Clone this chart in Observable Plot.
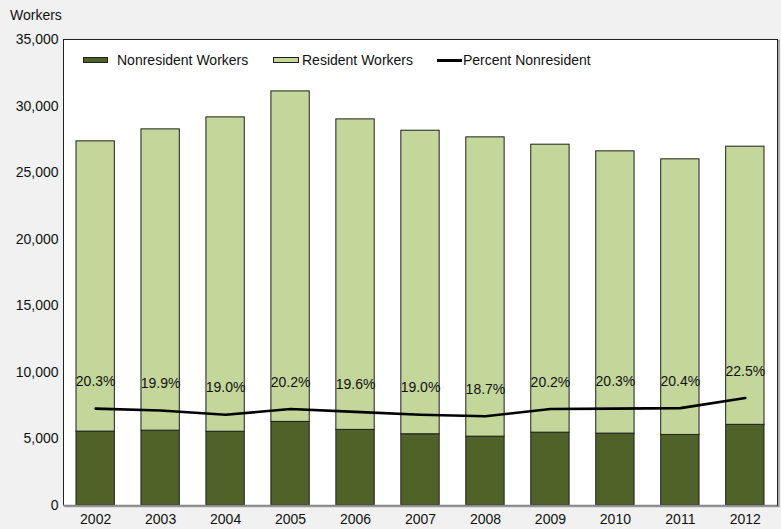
<!DOCTYPE html>
<html><head><meta charset="utf-8">
<script src="https://cdn.jsdelivr.net/npm/d3@7"></script>
<script src="https://cdn.jsdelivr.net/npm/@observablehq/plot@0.6"></script>
<style>
html,body{margin:0;padding:0;background:#f0f1f0;}
#wrap{position:relative;width:781px;height:529px;font-family:"Liberation Sans",Arial,sans-serif;font-size:14px;color:#111;}
.lg{position:absolute;white-space:nowrap;line-height:1;}
.sw{position:absolute;box-sizing:border-box;height:6px;border:1px solid #1e1e1e;}
.ln{position:absolute;height:2.5px;background:#000;}
</style></head><body><div id="wrap"></div>
<script>
const years = ["2002","2003","2004","2005","2006","2007","2008","2009","2010","2011","2012"];
const nonresident = [5550, 5620, 5540, 6280, 5680, 5350, 5170, 5470, 5400, 5300, 6060];
const resident = [21800, 22630, 23610, 24820, 23320, 22800, 22480, 21630, 21200, 20700, 20890];
const percentNonresident = [20.3, 19.9, 19.0, 20.2, 19.6, 19.0, 18.7, 20.2, 20.3, 20.4, 22.5];
const yTicks = [0, 5000, 10000, 15000, 20000, 25000, 30000, 35000];
const seriesNames = ["Nonresident Workers", "Resident Workers", "Percent Nonresident"];
const seriesColors = ["#4f6228", "#c4d79b", "#000000"];
const pctAxisMax = 97.6; // top of the hidden secondary (percent) axis

const rows = [];
years.forEach((yr, i) => {
  rows.push({year: yr, type: seriesNames[0], value: nonresident[i]});
  rows.push({year: yr, type: seriesNames[1], value: resident[i]});
});
const pctRows = years.map((yr, i) => ({year: yr, pct: percentNonresident[i], yv: percentNonresident[i] / pctAxisMax * 35000}));

const chart = Plot.plot({
  width: 781, height: 529,
  marginTop: 39, marginRight: 4, marginBottom: 24, marginLeft: 63,
  style: {background: "transparent", fontFamily: "'Liberation Sans', Arial, sans-serif", fontSize: "14px", color: "#111", overflow: "visible"},
  x: {type: "band", domain: years, paddingInner: 0.41, paddingOuter: 0.2, round: false, label: null},
  y: {domain: [0, 35000], label: null},
  color: {domain: seriesNames.slice(0, 2), range: seriesColors.slice(0, 2)},
  marks: [
    Plot.frame({stroke: "#9a9a9a", strokeWidth: 1.5, dx: 1.5, dy: 1}),
    Plot.frame({fill: "white", stroke: null}),
    Plot.barY(rows, {x: "year", y: "value", fill: "type", stroke: "#1e1e1e", strokeWidth: 1}),
    Plot.line(pctRows, {x: "year", y: "yv", stroke: "#000", strokeWidth: 2.6}),
    Plot.text(pctRows, {x: "year", y: "yv", text: d => d.pct.toFixed(1) + "%", dy: -27, fontSize: 14, fill: "#111"}),
    Plot.frame({stroke: "#222", strokeWidth: 1}),
    Plot.ruleY([0], {stroke: "#888", strokeWidth: 1.5}),
    Plot.axisY({ticks: yTicks, tickSize: 0, tickPadding: 5, tickFormat: d3.format(","), fontSize: 14, label: null}),
    Plot.axisX({tickSize: 0, tickPadding: 9, fontSize: 14, label: null})
  ]
});
const wrap = document.getElementById("wrap");
wrap.appendChild(chart);

function addEl(cls, css, text) {
  const e = document.createElement("div");
  e.className = cls;
  Object.assign(e.style, css);
  if (text) e.textContent = text;
  wrap.appendChild(e);
}
addEl("lg", {left: "10px", top: "8px"}, "Workers");
addEl("sw", {left: "83px", top: "57px", width: "25px", background: seriesColors[0]});
addEl("lg", {left: "117px", top: "53px"}, seriesNames[0]);
addEl("sw", {left: "273px", top: "57px", width: "26px", background: seriesColors[1]});
addEl("lg", {left: "302px", top: "53px"}, seriesNames[1]);
addEl("ln", {left: "437px", top: "59px", width: "25px"});
addEl("lg", {left: "463px", top: "53px"}, seriesNames[2]);
</script></body></html>
